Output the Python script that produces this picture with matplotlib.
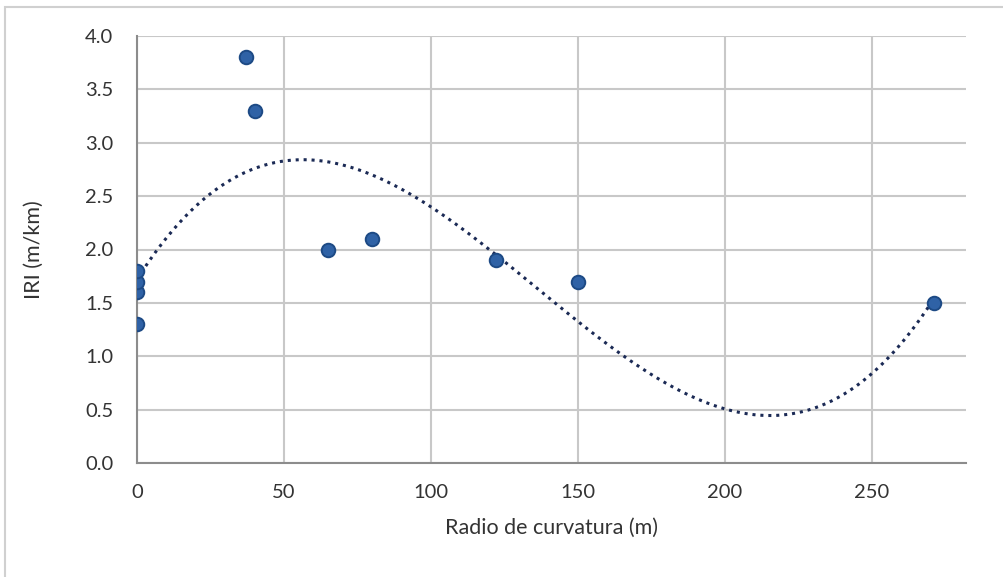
import numpy as np
import matplotlib
matplotlib.use("Agg")
import matplotlib.pyplot as plt
from matplotlib.patches import Rectangle

radio = [0, 0, 0, 0, 37, 40, 65, 80, 122, 150, 271]
iri = [1.3, 1.6, 1.7, 1.8, 3.8, 3.3, 2.0, 2.1, 1.9, 1.7, 1.5]
x_ticks = [0, 50, 100, 150, 200, 250]
y_ticks = [0.0, 0.5, 1.0, 1.5, 2.0, 2.5, 3.0, 3.5, 4.0]

plt.rcParams['font.family'] = ['Lato', 'DejaVu Sans']

fig = plt.figure(figsize=(10.04, 5.77), dpi=100)
fig.patches.append(Rectangle((5/1004, -0.1), 1.2, 1 - 7/577 + 0.1, transform=fig.transFigure,
                             fill=False, edgecolor='#D0D0D0', linewidth=1.5, zorder=0))
ax = fig.add_axes([137/1004, 1 - 463/577, (966 - 137)/1004, (463 - 36)/577])

# cubic trendline (least squares fit of the data, as Excel does)
coef = np.polyfit(radio, iri, 3)
xs = np.linspace(0, max(radio), 400)
ax.plot(xs, np.polyval(coef, xs), linestyle=(0, (1, 1.6)), color='#1B2A55', linewidth=2.2, zorder=3)

ax.scatter(radio, iri, s=95, color='#2F62A6', edgecolors='#1D4A85', linewidths=1.4, zorder=4)

ax.set_xlim(0, 282)
ax.set_ylim(0, 4.0)
ax.set_xticks(x_ticks)
ax.set_yticks(y_ticks)
ax.set_yticklabels([f"{v:.1f}" for v in y_ticks])
ax.grid(True, color='#C8C8C8', linewidth=1.5)
ax.set_axisbelow(True)
for s in ['top', 'right']:
    ax.spines[s].set_visible(False)
for s in ['left', 'bottom']:
    ax.spines[s].set_color('#8C8C8C')
    ax.spines[s].set_linewidth(1.5)
ax.tick_params(length=0, labelsize=14.5, colors='#333333')
ax.tick_params(axis='y', pad=17)
ax.tick_params(axis='x', pad=15)
ax.set_xlabel('Radio de curvatura (m)', fontsize=15.5, color='#333333', labelpad=12)
ax.set_ylabel('IRI (m/km)', fontsize=15.5, color='#333333')
ax.yaxis.set_label_coords((44 - 137) / (966 - 137), 0.5)

fig.savefig('out.png', dpi=100)
